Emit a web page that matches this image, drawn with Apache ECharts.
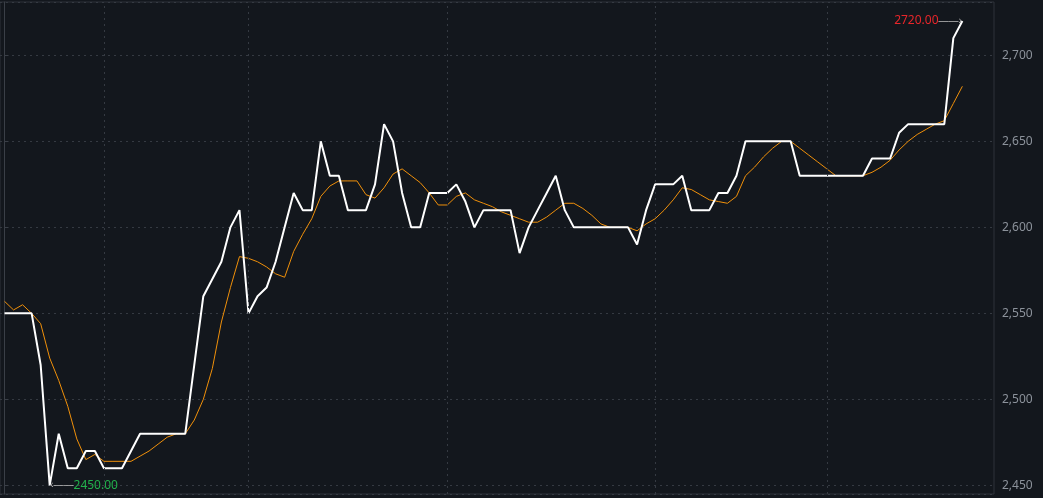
<!DOCTYPE html>
<html lang="en">
<head>
<meta charset="UTF-8">
<title>Intraday</title>
<style>html,body{margin:0;background:#13171d;}</style>
</head>
<body>
<div id="main" style="width:1043px;height:498px;"></div>
<script src="https://cdn.jsdelivr.net/npm/echarts@6/dist/echarts.min.js"></script>
<script>
// price line (white) and average line (orange), one value per minute slot
var price = [2550,2550,2550,2550,2520,2450,2480,2460,2460,2470,2470,2460,2460,2460,2470,
  2480,2480,2480,2480,2480,2480,2520,2560,2570,2580,2600,2610,2550,2560,2565,2580,2600,2620,
  2610,2610,2650,2630,2630,2610,2610,2610,2625,2660,2650,2620,2600,2600,2620,2620,2620,2625,
  2615,2600,2610,2610,2610,2610,2585,2600,2610,2620,2630,2610,2600,2600,2600,2600,2600,2600,
  2600,2590,2610,2625,2625,2625,2630,2610,2610,2610,2620,2620,2630,2650,2650,2650,2650,2650,
  2650,2630,2630,2630,2630,2630,2630,2630,2630,2640,2640,2640,2655,2660,2660,2660,2660,2660,
  2710,2720];
var avg = [2557,2552,2555,2550,2544,2524,2511,2496,2477,2465,2468,2464,2464,2464,2464,
  2467,2470,2474,2478,2480,2480,2488,2500,2518,2545,2565,2583,2582,2580,2577,2573,2571,2586,
  2596,2605,2618,2624,2627,2627,2627,2619,2617,2623,2631,2634,2630,2626,2620,2613,2613,2618,
  2620,2616,2614,2612,2609,2607,2605,2603,2603,2606,2610,2614,2614,2611,2607,2602,2600,2600,
  2600,2598,2602,2605,2610,2616,2623,2622,2619,2616,2615,2614,2618,2630,2635,2641,2646,2650,
  2650,2646,2642,2638,2634,2630,2630,2630,2630,2632,2635,2639,2645,2650,2654,2657,2660,2662,
  2672,2682];
var slots = 110;
var timeLines = [11, 27, 49, 72, 91];

function pairs(arr) { return arr.map(function (v, i) { return [i, v]; }); }

var maxI = price.indexOf(Math.max.apply(null, price));
var minI = price.indexOf(Math.min.apply(null, price));

var myChart = echarts.init(document.getElementById('main'));
myChart.setOption({
  backgroundColor: '#13171d',
  animation: false,
  grid: {left: 0, right: 49, top: 2, bottom: 4, show: true, borderColor: '#2e333b', borderWidth: 1},
  xAxis: {
    type: 'value', min: -0.5, max: slots - 0.5,
    axisLine: {show: false}, axisTick: {show: false}, axisLabel: {show: false}, splitLine: {show: false}
  },
  yAxis: {
    type: 'value', position: 'right', min: 2445, max: 2731,
    axisLine: {show: true, lineStyle: {color: '#3a3f47'}},
    axisTick: {show: true, length: 4, lineStyle: {color: '#3a3f47'}},
    axisLabel: {color: '#8c929b', fontSize: 12, fontFamily: 'Noto Sans', margin: 8, showMinLabel: false, showMaxLabel: false},
    splitLine: {lineStyle: {color: '#353a42', type: [2, 4]}}
  },
  series: [{
    type: 'line', data: pairs(avg), symbol: 'none',
    lineStyle: {color: '#f0900a', width: 1}, z: 2
  }, {
    type: 'line', data: pairs(price), symbol: 'none',
    lineStyle: {color: '#ffffff', width: 2}, z: 3,
    markLine: {
      silent: true, symbol: 'none', label: {show: false},
      lineStyle: {color: '#353a42', type: [2, 4], width: 1},
      data: timeLines.map(function (x) { return {xAxis: x}; })
    },
    markPoint: {
      symbol: 'circle', symbolSize: 1, itemStyle: {color: 'transparent'},
      data: [{
        coord: [maxI, price[maxI]],
        label: {position: 'left', distance: 0, formatter: '{r|' + price[maxI].toFixed(2) + '}{a|——›}',
          rich: {r: {color: '#e8262a', fontSize: 12, fontFamily: 'Noto Sans'}, a: {color: '#bbbbbb', fontSize: 10}}}
      }, {
        coord: [minI, price[minI]],
        label: {position: 'right', distance: 0, formatter: '{a|‹——}{g|' + price[minI].toFixed(2) + '}',
          rich: {g: {color: '#22b14c', fontSize: 12, fontFamily: 'Noto Sans'}, a: {color: '#bbbbbb', fontSize: 10}}}
      }]
    }
  }]
});
</script>
</body>
</html>
